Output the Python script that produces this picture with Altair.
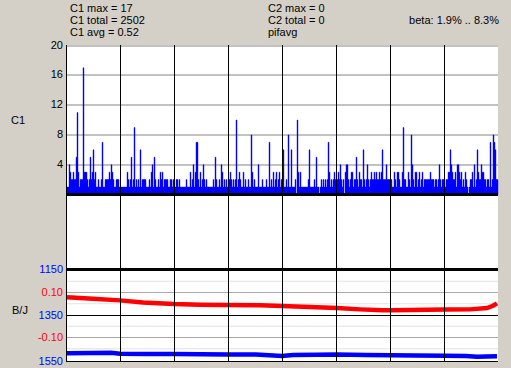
import altair as alt
import pandas as pd

# ---------------- data ----------------
# C1 histogram, one bin per screen column, 8 divisions of 54 bins (base-36 digits: a=10, b=11, h=17)
c1_divisions = [
    "0114322322" "5b31222h33" "3212523623" "1121127112" "2223243211" "2221",
    "1111111321" "2512912121" "6122221112" "1341521121" "3231222211" "2212",
    "1122121111" "1121113124" "1377213124" "2121111112" "1521121431" "2121",
    "12321212a1" "2321131211" "2118312111" "4111211121" "1712131231" "2312",
    "1611218116" "11120a3131" "1111112611" "1121511012" "1212127312" "1232",
    "2232421203" "4421233122" "5213221621" "2421232232" "3223236222" "4222",
    "2211321332" "1139221132" "1842133123" "1231222222" "3222122124" "2122",
    "2122336432" "2314432312" "1321012231" "4126322433" "2212217128" "7622",
]
division_ticks = [0, 54, 108, 162, 216, 270, 324, 378]
c1_ticks = [4, 8, 12, 16, 20]

# pifavg (red, scale -0.1..0.1)
red_x = [1, 27, 54, 77, 108, 134, 162, 194, 216, 244, 271, 294, 317, 325, 344, 379, 404, 421, 427, 431]
red_val = [0.079, 0.072, 0.065, 0.056, 0.049, 0.046, 0.044, 0.043, 0.040, 0.036, 0.031, 0.025,
           0.021, 0.021, 0.022, 0.024, 0.025, 0.031, 0.041, 0.052]
red_labels = [0.10, -0.10]
red_minor = [0.15, 0.05, -0.05, -0.15]

# blue series (scale 1150..1550, increasing downward)
blue_x = [1, 25, 45, 54, 80, 108, 135, 162, 190, 216, 227, 250, 271, 300, 325, 350, 379, 400, 411, 431]
blue_val = [1514, 1513, 1512, 1516, 1517, 1517, 1519, 1520, 1520, 1526, 1522, 1521, 1520, 1522,
            1523, 1524, 1525, 1526, 1529, 1527]
blue_ticks = [1150, 1350, 1550]

header_c1 = ["C1 max = 17", "C1 total = 2502", "C1 avg = 0.52"]
header_c2 = ["C2 max = 0", "C2 total = 0", "pifavg"]
beta_text = "beta: 1.9% .. 8.3%"
panel_titles = ["C1", "B/J"]

# ---------------- chart ----------------
FONT = "Liberation Sans"
BLUE = "#0000ff"
RED = "#ff0000"

c1_vals = [int(ch, 36) for div in c1_divisions for ch in div]
bars_df = pd.DataFrame({"i": list(range(len(c1_vals))), "v": c1_vals})
red_df = pd.DataFrame({"x": red_x, "v": red_val})
blue_df = pd.DataFrame({"x": blue_x, "v": blue_val})

x_scale = alt.Scale(domain=[0, 432], nice=False, zero=False)


def yaxis(values, color, grid=False, label_expr=None):
    kw = dict(orient="left", values=values, grid=grid, domain=False, ticks=False,
              labelPadding=3, labelColor=color, labelFont=FONT, labelFontSize=11,
              title=None, translate=0, labelOverlap=False)
    if grid:
        kw.update(gridColor="#858585", gridOpacity=1, gridWidth=1)
    if label_expr:
        kw["labelExpr"] = label_expr
    else:
        kw["format"] = "d"
    return alt.Axis(**kw)


# top panel
c1_scale = alt.Scale(domain=[0, 20], range=[149.5, 0.5], nice=False, zero=False)
c1_axis = yaxis(c1_ticks, "black", grid=True)

bars = alt.Chart(bars_df).transform_calculate(i1="datum.i + 1").mark_rect(
    color=BLUE, stroke=BLUE, strokeWidth=0.4
).encode(
    x=alt.X("i:Q", scale=x_scale, axis=None),
    x2="i1:Q",
    y=alt.Y("v:Q", scale=c1_scale, axis=c1_axis),
    y2=alt.datum(0),
)
zero_line = alt.Chart(pd.DataFrame({"v": [0]})).mark_rule(color="black", strokeWidth=3).encode(
    y=alt.Y("v:Q", scale=c1_scale, axis=c1_axis)
)
top_group = alt.layer(bars, zero_line)

# vertical division lines (full height)
vlines = alt.Chart(pd.DataFrame({"x": division_ticks})).mark_rule(
    color="black", strokeWidth=1, xOffset=0.5
).encode(x=alt.X("x:Q", scale=x_scale, axis=None))

# red series
red_scale = alt.Scale(domain=[-0.1, 0.1], range=[292.5, 247.5], nice=False, zero=False)
red_axis = yaxis(red_labels, RED,
                 label_expr="(datum.value < 0 ? '-' : '') + format(abs(datum.value), '.2f')")
red_minor_rules = alt.Chart(pd.DataFrame({"v": red_minor})).mark_rule(color="#e2e2e2", strokeWidth=1).encode(
    y=alt.Y("v:Q", scale=red_scale, axis=red_axis)
)
red_major_rules = alt.Chart(pd.DataFrame({"v": red_labels})).mark_rule(color="#a8a8a8", strokeWidth=1).encode(
    y=alt.Y("v:Q", scale=red_scale, axis=red_axis)
)
red_line = alt.Chart(red_df).mark_line(color=RED, strokeWidth=4.5).encode(
    x=alt.X("x:Q", scale=x_scale, axis=None),
    y=alt.Y("v:Q", scale=red_scale, axis=red_axis),
)
red_grid = alt.layer(red_minor_rules, red_major_rules)

# blue series
blue_scale = alt.Scale(domain=[1150, 1550], range=[224.5, 316.5], nice=False, zero=False)
blue_axis = yaxis(blue_ticks, BLUE)
blue_thick = alt.Chart(pd.DataFrame({"v": blue_ticks[:1]})).mark_rule(color="black", strokeWidth=3).encode(
    y=alt.Y("v:Q", scale=blue_scale, axis=blue_axis)
)
blue_thin = alt.Chart(pd.DataFrame({"v": blue_ticks[1:]})).mark_rule(color="black", strokeWidth=1).encode(
    y=alt.Y("v:Q", scale=blue_scale, axis=blue_axis)
)
blue_line = alt.Chart(blue_df).mark_line(color=BLUE, strokeWidth=4.5).encode(
    x=alt.X("x:Q", scale=x_scale, axis=None),
    y=alt.Y("v:Q", scale=blue_scale, axis=blue_axis),
)
blue_group = alt.layer(blue_thick, blue_thin, blue_line)
red_group = alt.layer(red_grid, red_line)


def label(txt, x, y, align="left", baseline="alphabetic"):
    return alt.Chart(alt.Data(values=[{}])).mark_text(
        text=txt, align=align, baseline=baseline, font=FONT, fontSize=11, color="black"
    ).encode(x=alt.value(x), y=alt.value(y))


line_y = [-33.5, -21.5, -9.5]
texts = []
for t, yy in zip(header_c1, line_y):
    texts.append(label(t, 4, yy))
for t, yy in zip(header_c2, line_y):
    texts.append(label(t, 202, yy))
texts.append(label(beta_text, 433, line_y[1], align="right"))
texts.append(label(panel_titles[0], -55, 76, baseline="middle"))
texts.append(label(panel_titles[1], -54, 266, baseline="middle"))

chart = (
    alt.layer(top_group, red_group, blue_group, vlines, *texts)
    .resolve_scale(y="independent")
    .resolve_axis(y="independent")
    .properties(
        width=432,
        height=317,
        padding={"left": 66, "top": 45, "right": 13, "bottom": 6},
        autosize=alt.AutoSizeParams(type="none"),
        background="#d4d0c8",
    )
    .configure_view(fill="white", strokeWidth=0)
)

chart.save("out.html", embed_options={"renderer": "svg", "actions": False})
